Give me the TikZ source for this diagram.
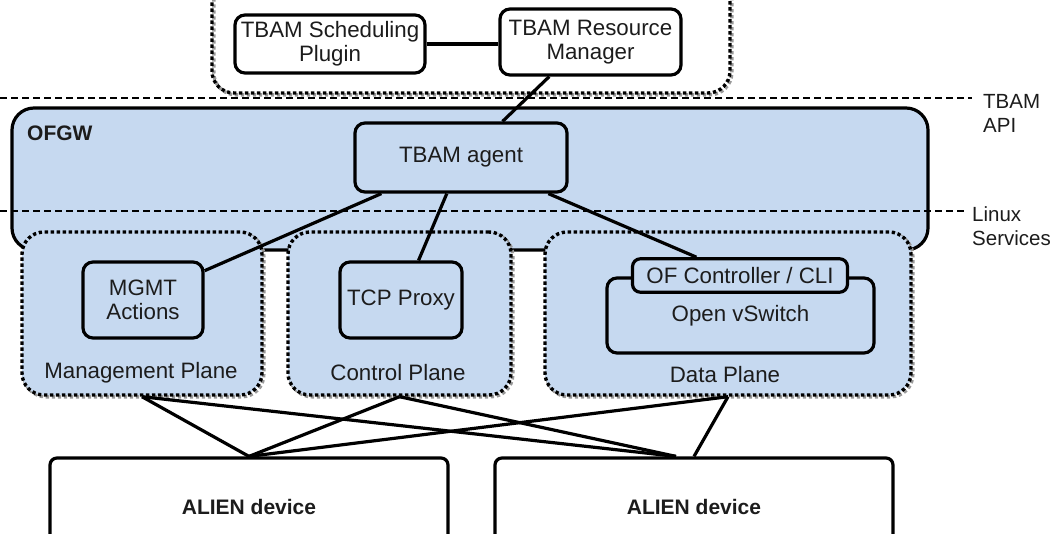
\documentclass[tikz,border=0pt]{standalone}
\usepackage{fontspec}
\setmainfont{Liberation Sans}
\usetikzlibrary{calc}
\definecolor{planeblue}{RGB}{198,217,240}
\definecolor{ink}{RGB}{28,28,28}

\begin{document}
\begin{tikzpicture}[x=1pt,y=-1pt,
  font=\fontsize{22.3}{24}\selectfont,
  box/.style={draw=black, line width=3.2pt, rounded corners=10pt, align=center,
    inner sep=0pt, text=ink},
  bluebox/.style={box, fill=planeblue},
  dotbox/.style={draw=black, line width=3.4pt, dash pattern=on 3.3pt off 2.7pt,
    rounded corners=22pt, inner sep=0pt,
    preaction={draw=black!40, line width=3.4pt, dash pattern=on 3.3pt off 2.7pt,
      transform canvas={shift={(1.8pt,-1.8pt)}}}},
  link/.style={draw=black, line width=3.2pt},
  level/.style={draw=black, line width=1.1pt, dash pattern=on 7pt off 4pt},
  lbl/.style={inner sep=0pt, text=ink, align=left},
  sidelbl/.style={lbl, anchor=west, font=\fontsize{20.5}{24}\selectfont},
]
\useasboundingbox (0,0) rectangle (1057,533);

% TBAM host (upper part, cut by the page edge)
\node[dotbox, minimum width=518pt, minimum height=126pt] (host) at (471,30) {};
\node[box, minimum width=190pt, minimum height=58pt] (sched) at (330,44)
  {TBAM Scheduling\\Plugin};
\node[box, minimum width=181pt, minimum height=66pt] (rm) at (590.5,42)
  {TBAM Resource\\Manager};

% OFGW container
\node[bluebox, rounded corners=22pt, minimum width=916pt, minimum height=142pt]
  (ofgw) at (470,179) {};
\node[lbl, anchor=west, font=\fontsize{21}{22}\selectfont\bfseries] (ofgwlbl) at (27,133) {OFGW};

% API / services boundaries
\coordinate (apiL) at (0,98);
\coordinate (apiR) at (972,98);
\coordinate (linL) at (0,211);
\coordinate (linR) at (964,211);
\draw[level] (apiL) -- (apiR);
\draw[level] (linL) -- (linR);
\node[sidelbl] (api) at (983,113.5) {TBAM\\API};
\node[sidelbl] (linux) at (972,226) {Linux\\Services};

\node[bluebox, minimum width=212pt, minimum height=69pt] (agent) at (461,157.5) {TBAM agent};

% planes
\node[dotbox, fill=planeblue, minimum width=240pt, minimum height=163pt] (mgmtp) at (142,313.5) {};
\node[dotbox, fill=planeblue, minimum width=223pt, minimum height=163pt] (ctrlp) at (399.5,313.5) {};
\node[dotbox, fill=planeblue, minimum width=366pt, minimum height=163pt] (datap) at (728,313.5) {};
\node[lbl] (mgmtlbl) at (141,373) {Management Plane};
\node[lbl] (ctrllbl) at (398,373) {Control Plane};
\node[lbl] (datalbl) at (725,375) {Data Plane};

\node[bluebox, minimum width=120pt, minimum height=76pt] (mgmt) at (143,300) {MGMT\\Actions};
\node[bluebox, minimum width=122pt, minimum height=76pt] (tcp) at (401,300) {TCP Proxy};
\node[bluebox, minimum width=267pt, minimum height=75pt] (ovs) at (740.5,315.5) {Open vSwitch};
\node[bluebox, rounded corners=8pt, minimum width=215pt, minimum height=33.5pt] (ofc) at (740,275.5)
  {OF Controller / CLI};

% devices
\node[box, rounded corners=7pt, minimum width=398pt, minimum height=98pt,
  font=\fontsize{21}{24}\selectfont\bfseries] (alien1) at (249,507) {ALIEN device};
\node[box, rounded corners=7pt, minimum width=398pt, minimum height=98pt,
  font=\fontsize{21}{24}\selectfont\bfseries] (alien2) at (694,507) {ALIEN device};
\coordinate (a2in) at ([xshift=-18pt]alien2.north);

% connections
\draw[link] (sched.east) -- (sched.east -| rm.west);
\draw[link] ($(rm.south west)!0.276!(rm.south east)$) -- ($(agent.north west)!0.693!(agent.north east)$);
\draw[link] ($(agent.south west)!0.13!(agent.south east)$) -- ($(mgmt.north east)!0.13!(mgmt.south east)$);
\draw[link] ($(agent.south west)!0.434!(agent.south east)$) -- ($(tcp.north west)!0.64!(tcp.north east)$);
\draw[link] ($(agent.south west)!0.906!(agent.south east)$) -- ($(ofc.north west)!0.30!(ofc.north east)$);

\draw[link] (mgmtp.south) -- (alien1.north);
\draw[link] (mgmtp.south) -- (a2in);
\draw[link] (ctrlp.south) -- (alien1.north);
\draw[link] (ctrlp.south) -- (a2in);
\draw[link] (datap.south) -- (alien1.north);
\draw[link] (datap.south) -- (alien2.north);
\end{tikzpicture}
\end{document}
